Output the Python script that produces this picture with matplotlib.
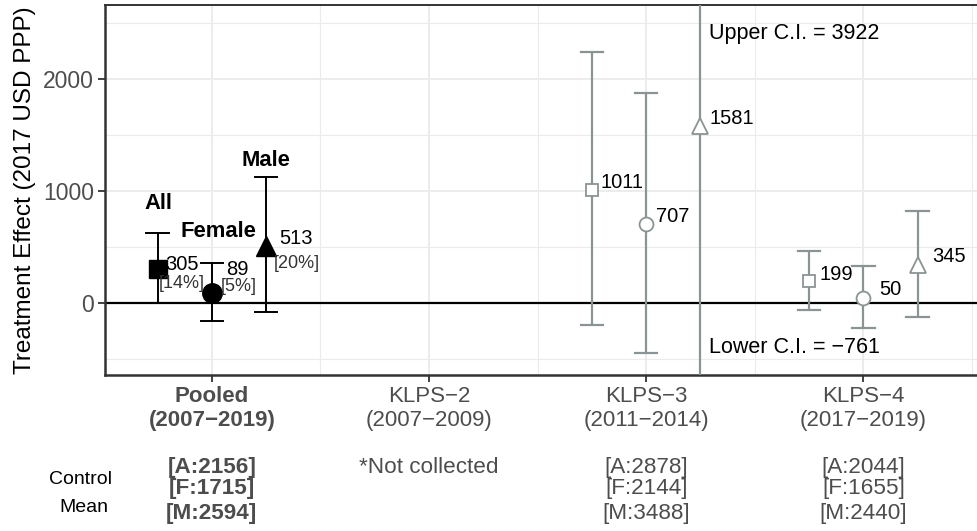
import matplotlib
matplotlib.use("Agg")
import matplotlib.pyplot as plt
import matplotlib.transforms as mtransforms

plt.rcParams['font.family'] = ['Liberation Sans', 'DejaVu Sans']

# ---- data ----
periods = ["Pooled\n(2007\u22122019)", "KLPS\u22122\n(2007\u22122009)",
           "KLPS\u22123\n(2011\u22122014)", "KLPS\u22124\n(2017\u22122019)"]
groups = ["All", "Female", "Male"]
group_offsets = [-0.25, 0.0, 0.25]

pooled_est = [305, 89, 513]
pooled_lo = [0, -160, -80]
pooled_hi = [625, 360, 1125]
pooled_pct = ["[14%]", "[5%]", "[20%]"]

klps3_est = [1011, 707, 1581]
klps3_lo = [-196, -444, -761]
klps3_hi = [2240, 1875, 3922]

klps4_est = [199, 50, 345]
klps4_lo = [-62, -222, -124]
klps4_hi = [462, 329, 827]

control_pooled = ["[A:2156]", "[F:1715]", "[M:2594]"]
control_klps3 = ["[A:2878]", "[F:2144]", "[M:3488]"]
control_klps4 = ["[A:2044]", "[F:1655]", "[M:2440]"]
not_collected = "*Not collected"

markers_filled = ["s", "o", "^"]
gray = "#8b9494"

fig = plt.figure(figsize=(9.77, 5.31), dpi=100)
ax = fig.add_axes([105/977, 1-375/531, 880/977, 370/531])

ax.set_xlim(0.508, 4.56)
ax.set_ylim(-639, 2659)

# grid
ax.set_xticks([1, 2, 3, 4])
ax.set_xticks([1.5, 2.5, 3.5, 4.5], minor=True)
ax.set_yticks([0, 1000, 2000])
ax.set_yticks([-500, 500, 1500, 2500], minor=True)
ax.grid(True, which='major', color='#ebebeb', lw=1.3, zorder=0)
ax.grid(True, which='minor', color='#ebebeb', lw=0.8, zorder=0)
ax.set_axisbelow(True)

for s in ax.spines.values():
    s.set_color('#333333')
    s.set_linewidth(1.4)
ax.spines['left'].set_linewidth(1.8)
ax.spines['bottom'].set_linewidth(1.8)

ax.axhline(0, color='black', lw=1.6, zorder=2)

cap = 0.052
def errbar(x, lo, hi, color, lw):
    ax.plot([x, x], [lo, hi], color=color, lw=lw, zorder=3, solid_capstyle='butt')
    ax.plot([x - cap, x + cap], [lo, lo], color=color, lw=lw, zorder=3)
    ax.plot([x - cap, x + cap], [hi, hi], color=color, lw=lw, zorder=3)

# pooled (black, filled)
msizes = [13, 14, 14]
for i in range(3):
    x = 1 + group_offsets[i]
    errbar(x, pooled_lo[i], pooled_hi[i], 'black', 1.4)
    ax.plot(x, pooled_est[i], marker=markers_filled[i], color='black',
            ms=msizes[i], zorder=4, ls='none')

# KLPS-3 gray open
osizes = [9, 10, 12]
for i in range(3):
    x = 3 + group_offsets[i]
    if i == 2:
        ax.plot([x, x], [-700, 2700], color=gray, lw=1.6, zorder=3)
    else:
        errbar(x, klps3_lo[i], klps3_hi[i], gray, 1.6)
    ax.plot(x, klps3_est[i], marker=markers_filled[i], mfc='white', mec=gray,
            mew=1.3, ms=osizes[i], zorder=4, ls='none')

for i in range(3):
    x = 4 + group_offsets[i]
    errbar(x, klps4_lo[i], klps4_hi[i], gray, 1.6)
    ax.plot(x, klps4_est[i], marker=markers_filled[i], mfc='white', mec=gray,
            mew=1.3, ms=osizes[i], zorder=4, ls='none')

vfs = 14.5
pfs = 13
# pooled value labels
ax.text(0.787, 350, f"{pooled_est[0]}", fontsize=vfs, va='center', ha='left', zorder=5)
ax.text(0.755, 180, pooled_pct[0], fontsize=pfs, va='center', ha='left', color='#333333', zorder=5)
ax.text(1.065, 297, f"{pooled_est[1]}", fontsize=vfs, va='center', ha='left', zorder=5)
ax.text(1.04, 146, pooled_pct[1], fontsize=pfs, va='center', ha='left', color='#333333', zorder=5)
ax.text(1.31, 581, f"{pooled_est[2]}", fontsize=vfs, va='center', ha='left', zorder=5)
ax.text(1.287, 359, pooled_pct[2], fontsize=pfs, va='center', ha='left', color='#333333', zorder=5)

ax.text(0.755, 893, groups[0], fontsize=15.8, fontweight='bold', ha='center', va='center')
ax.text(1.03, 636, groups[1], fontsize=15.8, fontweight='bold', ha='center', va='center')
ax.text(1.25, 1277, groups[2], fontsize=15.8, fontweight='bold', ha='center', va='center')

# KLPS-3 labels
ax.text(2.79, 1073, f"{klps3_est[0]}", fontsize=vfs, va='center', ha='left')
ax.text(3.045, 770, f"{klps3_est[1]}", fontsize=vfs, va='center', ha='left')
ax.text(3.29, 1650, f"{klps3_est[2]}", fontsize=vfs, va='center', ha='left')
ax.text(3.29, 2409, f"Upper C.I. = {klps3_hi[2]}", fontsize=15.5, va='center', ha='left')
ax.text(3.29, -398, f"Lower C.I. = \u2212{abs(klps3_lo[2])}", fontsize=15.5, va='center', ha='left')

# KLPS-4 labels
ax.text(3.80, 261, f"{klps4_est[0]}", fontsize=vfs, va='center', ha='left')
ax.text(4.075, 120, f"{klps4_est[1]}", fontsize=vfs, va='center', ha='left')
ax.text(4.315, 415, f"{klps4_est[2]}", fontsize=vfs, va='center', ha='left')

# ticks
ax.set_xticklabels(periods, fontsize=16, color='#4d4d4d', linespacing=1.2)
ax.get_xticklabels()[0].set_fontweight('bold')
ax.tick_params(axis='x', which='major', length=5, width=1.3, color='#333333', pad=3)
ax.tick_params(axis='x', which='minor', length=0)
ax.tick_params(axis='y', which='major', length=5, width=1.3, color='#333333', pad=3,
               labelsize=16.5, labelcolor='#4d4d4d')
ax.tick_params(axis='y', which='minor', length=0)

ax.set_ylabel("Treatment Effect (2017 USD PPP)", fontsize=17.5, labelpad=5)

# control means
trans = mtransforms.blended_transform_factory(ax.transData, ax.transAxes)
ys = [-0.249, -0.308, -0.373]
cfs = 16.2
for j in range(3):
    ax.text(1, ys[j], control_pooled[j], transform=trans, ha='center', va='center',
            fontsize=cfs, fontweight='bold', color='#4d4d4d', clip_on=False)
    ax.text(3, ys[j], control_klps3[j], transform=trans, ha='center', va='center',
            fontsize=cfs, color='#4d4d4d', clip_on=False)
    ax.text(4, ys[j], control_klps4[j], transform=trans, ha='center', va='center',
            fontsize=cfs, color='#4d4d4d', clip_on=False)
ax.text(2, ys[0], not_collected, transform=trans, ha='center', va='center',
        fontsize=cfs, color='#4d4d4d', clip_on=False)

fig.text(80/977, 1-480/531, "Control", ha='center', va='center', fontsize=14)
fig.text(84/977, 1-508/531, "Mean", ha='center', va='center', fontsize=14)

fig.savefig("out.png", dpi=100)
